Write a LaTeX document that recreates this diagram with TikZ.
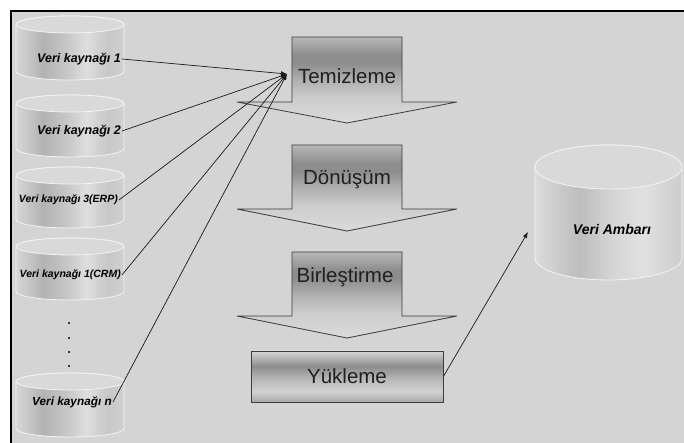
\documentclass[tikz,border=0pt]{standalone}
\usepackage{fontspec}
\setmainfont{Liberation Sans}
\usetikzlibrary{arrows.meta}

% palette
\definecolor{panel}{HTML}{D4D4D4}
\definecolor{drumline}{HTML}{F4F4F4}
\definecolor{drumtop}{HTML}{D9D9D9}
\definecolor{stageline}{HTML}{3C3C3C}
\definecolor{wireink}{HTML}{1A1A1A}

% metallic body of the source drums (left to right)
\pgfdeclarehorizontalshading{drumshade}{100bp}{
  color(0bp)=(black!16); color(25bp)=(black!16);
  color(37.5bp)=(black!30); color(47.5bp)=(black!23);
  color(57.5bp)=(black!13); color(67.5bp)=(black!22);
  color(75bp)=(black!18); color(100bp)=(black!18)}
% body of the warehouse drum
\pgfdeclarehorizontalshading{vaultshade}{100bp}{
  color(0bp)=(black!14); color(25bp)=(black!14);
  color(40bp)=(black!26); color(52bp)=(black!16);
  color(62bp)=(black!12); color(75bp)=(black!20); color(100bp)=(black!20)}
% process stages (top to bottom)
\pgfdeclareverticalshading{stageshade}{100bp}{
  color(0bp)=(black!14); color(25bp)=(black!14);
  color(40bp)=(black!20); color(50bp)=(black!31);
  color(60bp)=(black!45); color(65bp)=(black!44);
  color(75bp)=(black!28); color(100bp)=(black!28)}
\pgfdeclareverticalshading{loadshade}{100bp}{
  color(0bp)=(black!34); color(25bp)=(black!34);
  color(35bp)=(black!18); color(47.5bp)=(black!28);
  color(60bp)=(black!45); color(75bp)=(black!16); color(100bp)=(black!16)}

\tikzset{
  drumbody/.style={draw=drumline, line width=0.8pt},
  srclabel/.style={anchor=east, inner sep=1pt, text=black,
    font=\bfseries\itshape\fontsize{#1}{#1}\selectfont},
  srclabel/.default=12.5,
  stagefill/.style={shading=stageshade, draw=stageline, line width=0.8pt},
  stagelabel/.style={anchor=base, inner sep=0pt, text=black!88,
    font=\fontsize{20.5}{24}\selectfont},
  loadbox/.style={shading=loadshade, draw=stageline, line width=0.8pt,
    minimum width=192pt, minimum height=51pt, inner sep=0pt,
    text=black!88, font=\fontsize{20.5}{24}\selectfont},
  feed/.style={draw=wireink, line width=0.7pt,
    -{Latex[length=6pt,width=4.6pt]}},
}

% cylinder: centre x, top y, bottom y, x radius, y radius, body shading
\newcommand\drawdrum[6]{%
  \pgfmathsetmacro\drumL{#1-#4}\pgfmathsetmacro\drumR{#1+#4}%
  \pgfmathsetmacro\drumT{#2-#5}\pgfmathsetmacro\drumB{#3+#5}%
  \path[drumbody, shading=#6] (\drumL,\drumT) -- (\drumL,\drumB)
    arc[start angle=180, end angle=360, x radius=#4, y radius=#5]
    -- (\drumR,\drumT)
    arc[start angle=0, end angle=180, x radius=#4, y radius=#5] -- cycle;
  \path[drumbody, fill=drumtop] (#1,\drumT) ellipse[x radius=#4, y radius=#5];
}
% block arrow of a stage: top, shoulder, tip
\newcommand\stagearrow[3]{%
  \path[stagefill] (292,#1) -- (292,#2) -- (237,#2) -- (347,#3)
    -- (457,#2) -- (402,#2) -- (402,#1) -- cycle;
}

\begin{document}
\begin{tikzpicture}[x=1pt, y=1pt]
  \useasboundingbox (0,0) rectangle (684,443);
  \fill[white] (0,0) rectangle (684,443);
  \fill[panel] (11,0) rectangle (684,432);
  \draw[black, line width=2.6pt] (11,0) -- (11,432) -- (684,432);

  % source drums
  \drawdrum{70}{427}{363}{54}{8.5}{drumshade}
  \drawdrum{70}{348}{286}{54}{8.5}{drumshade}
  \drawdrum{70}{276}{215}{54}{8.5}{drumshade}
  \drawdrum{70}{205}{143}{54}{8.5}{drumshade}
  \drawdrum{70}{70}{6}{54}{8.5}{drumshade}

  \node[srclabel] (s1) at (122,384) {Veri kaynağı 1};
  \node[srclabel] (s2) at (122,312) {Veri kaynağı 2};
  \node[srclabel=10.5] (s3) at (119,243) {Veri kaynağı 3(ERP)};
  \node[srclabel=10.5] (s4) at (122,168) {Veri kaynağı 1(CRM)};
  \node[srclabel=11.8] (sn) at (113,41) {Veri kaynağı n};

  % ellipsis between the drums
  \foreach \yy [count=\k] in {120,105,91,77}
    \fill[black] (69,\yy) circle[radius=1.1pt] coordinate (dot\k);

  % warehouse drum
  \drawdrum{608.5}{298}{163}{73.5}{22}{vaultshade}
  \node[font=\bfseries\itshape\fontsize{14}{14}\selectfont, inner sep=1pt]
    (dw) at (612,213) {Veri Ambarı};
  \coordinate (dwin) at (528,211);

  % process stages
  \stagearrow{406}{341}{320}
  \stagearrow{298}{234}{212}
  \stagearrow{191}{127}{105}
  \node[stagelabel] (t1) at (347,359) {Temizleme};
  \node[stagelabel] (t2) at (347,258) {Dönüşüm};
  \node[stagelabel] (t3) at (345,160) {Birleştirme};
  \node[loadbox] (load) at (347,66.5) {Yükleme};

  % gathering point in front of the first stage
  \coordinate (hub) at (287,369);

  \draw[feed] (s1.east) -- (hub);
  \draw[feed] (s2.east) -- (hub);
  \draw[feed] (s3.east) -- (hub);
  \draw[feed] (s4.east) -- (hub);
  \draw[feed] (sn.east) -- (hub);
  \draw[feed] (load.east) -- (dwin);
\end{tikzpicture}
\end{document}
